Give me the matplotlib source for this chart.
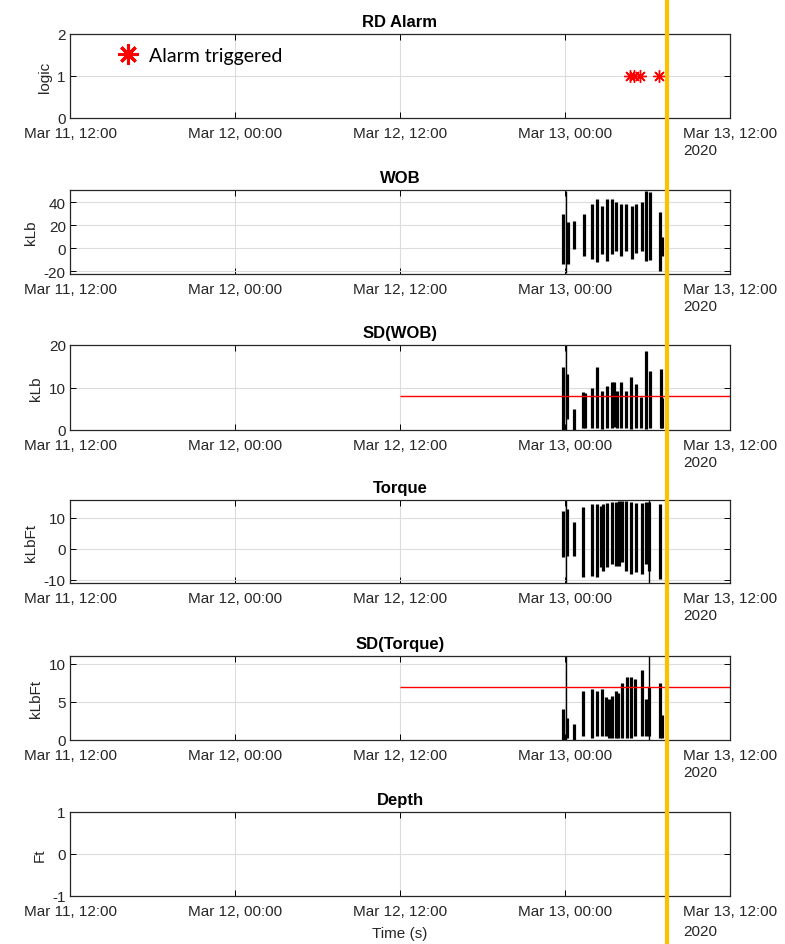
# Drilling alarm dashboard: RD alarm, WOB, torque and their rolling SD
import numpy as np
import pandas as pd
import matplotlib
matplotlib.use("Agg")
import matplotlib.pyplot as plt
import matplotlib.dates as mdates
from matplotlib.lines import Line2D

plt.rcParams["font.family"] = ["Liberation Sans", "DejaVu Sans"]

# --- data (hours after 2020-03-13 00:00) ---
t0 = pd.Timestamp("2020-03-13 00:00")

alarm_h = [4.73, 5.02, 5.49, 6.84]
alarm_v = [1, 1, 1, 1]

wob_h = [-0.13, 0.2, 0.65, 1.35, 1.96, 2.33, 2.72, 3.05, 3.44, 3.74, 4.1, 4.45, 4.85, 5.14, 5.6, 5.92, 6.15, 6.9, 7.08]
wob_hi = [29.6, 22.6, 23.5, 29.6, 38, 42.6, 36.5, 42.6, 42.6, 40, 38, 38, 36.5, 38, 40, 50, 49, 31, 9.6]
wob_lo = [-13.9, -14, -0.9, -7, -9.6, -12, -5, -11, -5, -2.6, -7, -2.6, -9.6, -4, -2.6, -11, -10, -20, -7]
wob_spike_h = [0.05]
wob_spike_lo = [-22]
wob_spike_hi = [50]

sdwob_h = [-0.12, 0.17, 0.65, 1.33, 1.45, 1.99, 2.35, 2.72, 3.08, 3.44, 3.56, 3.81, 4.1, 4.41, 4.82, 5.14, 5.55, 5.89, 6.18, 6.96, 7.08]
sdwob_hi = [14.8, 13.2, 5, 8.9, 8.7, 10, 14.8, 9.2, 10.4, 11.2, 11.2, 9.2, 11.2, 9.2, 12.4, 10.9, 7.8, 18.6, 13.9, 14.4, 7.5]
sdwob_lo = [0, 2.6, 0, 0.5, 0.5, 0.5, 0.5, 0.3, 0.5, 0.5, 0.8, 0.5, 0.5, 0.5, 0.3, 0.5, 0.5, 0.3, 0.5, 0.5, 0.5]
sdwob_spike_h = [0.05]
sdwob_spike_lo = [0]
sdwob_spike_hi = [20]
sdwob_limit = 8

trq_h = [-0.12, 0.17, 0.65, 1.33, 1.94, 2.30, 2.59, 2.79, 3.08, 3.44, 3.68, 3.93, 4.17, 4.41, 4.78, 5.14, 5.58, 5.87, 6.11, 6.91]
trq_hi = [12.3, 12.9, 8.7, 13.5, 14.5, 14.5, 14.0, 14.5, 14.7, 15.0, 15.0, 15.4, 15.6, 15.6, 15.0, 14.7, 14.7, 15.0, 15.0, 14.5]
trq_lo = [-2.6, -2.3, -2.3, -9.1, -8.6, -9.1, -5.9, -7.0, -5.9, -4.8, -5.4, -5.4, -4.3, -7.0, -8.1, -7.5, -8.1, -4.8, -7.0, -9.7]
trq_spike_h = [0.05, 6.11]
trq_spike_lo = [-11, -11]
trq_spike_hi = [15.8, 15.8]

sdtrq_h = [-0.12, 0.12, 0.65, 1.33, 1.94, 2.30, 2.67, 2.96, 3.2, 3.44, 3.68, 3.88, 4.17, 4.49, 4.78, 5.09, 5.58, 5.87, 6.11, 6.91, 7.08]
sdtrq_hi = [4.1, 2.9, 2.1, 6.4, 6.7, 6.4, 6.7, 5.6, 5.4, 5.8, 6.4, 6.1, 7.4, 8.3, 8.3, 8.0, 9.2, 5.4, 6.9, 7.4, 3.3]
sdtrq_lo = [0, 0.3, 0, 0.5, 0.3, 0.5, 0.5, 0.5, 0.3, 0.3, 0.3, 0.3, 0.3, 0.3, 0.3, 0.5, 0.5, 0.5, 0.5, 0.3, 0.3]
sdtrq_spike_h = [0.05, 6.11]
sdtrq_spike_lo = [0, 0]
sdtrq_spike_hi = [11, 11]
sdtrq_limit = 7

limit_start = "2020-03-12 12:00"
cursor_h = 7.42

xtick_times = ["2020-03-11 12:00", "2020-03-12 00:00", "2020-03-12 12:00",
               "2020-03-13 00:00", "2020-03-13 12:00"]
xtick_labels = ["Mar 11, 12:00", "Mar 12, 00:00", "Mar 12, 12:00",
                "Mar 13, 00:00", "Mar 13, 12:00"]
year_label = "2020"


def to_time(hours):
    return t0 + pd.to_timedelta(np.asarray(hours, dtype=float), unit="h")


# --- layout (pixel-measured panel boxes) ---
W, H = 785, 945
fig = plt.figure(figsize=(W / 100, H / 100), dpi=100)
panel_px = [(35, 119), (191, 275), (346, 431), (501, 584), (657, 741), (813, 897)]
axes = []
for top, bot in panel_px:
    ax = fig.add_axes([70 / W, 1 - bot / H, 660 / W, (bot - top) / H])
    axes.append(ax)

titles = ["RD Alarm", "WOB", "SD(WOB)", "Torque", "SD(Torque)", "Depth"]
ylabels = ["logic", "kLb", "kLb", "kLbFt", "kLbFt", "Ft"]
ylims = [(0, 2), (-22.5, 50.5), (0, 20), (-11, 15.8), (0, 11), (-1, 1)]
yticks = [[0, 1, 2], [-20, 0, 20, 40], [0, 10, 20], [-10, 0, 10], [0, 5, 10], [-1, 0, 1]]
txt_col = "#262626"

xt = pd.to_datetime(xtick_times)
for ax, ttl, yl, lim, yt in zip(axes, titles, ylabels, ylims, yticks):
    ax.set_xlim(xt[0], xt[-1])
    ax.set_ylim(*lim)
    ax.set_xticks(xt)
    ax.set_xticklabels(xtick_labels, fontsize=11, color=txt_col)
    ax.set_yticks(yt)
    ax.set_yticklabels([str(v) for v in yt], fontsize=11, color=txt_col)
    ax.set_title(ttl, fontsize=12, fontweight="bold", pad=6)
    ax.set_ylabel(yl, fontsize=11, color=txt_col, labelpad=4)
    ax.grid(True, color="#dcdcdc", lw=0.8)
    ax.set_axisbelow(True)
    ax.tick_params(direction="in", length=4, width=0.7, top=True, right=True)
    ax.tick_params(axis="x", pad=5.5)
    ax.tick_params(axis="y", pad=3)
    for sp in ax.spines.values():
        sp.set_linewidth(0.9)
        sp.set_color(txt_col)

axes[-1].set_xlabel("Time (s)", fontsize=11, color=txt_col, labelpad=6)

# --- RD alarm ---
ax = axes[0]
ax.plot(to_time(alarm_h), alarm_v, ls="none", marker=(8, 2, 0), ms=9,
        mew=1.0, color="red", label="Alarm triggered")
leg = ax.legend(loc="upper left", bbox_to_anchor=(0.052, 1.05), frameon=False,
                markerscale=1.6, handlelength=0.6, handletextpad=0.8,
                prop={"family": ["Lato", "DejaVu Sans"], "size": 14})
leg.legend_handles[0].set_markeredgewidth(2.2)

# --- burst panels ---
burst_sets = [
    (axes[1], wob_h, wob_lo, wob_hi, wob_spike_h, wob_spike_lo, wob_spike_hi),
    (axes[2], sdwob_h, sdwob_lo, sdwob_hi, sdwob_spike_h, sdwob_spike_lo, sdwob_spike_hi),
    (axes[3], trq_h, trq_lo, trq_hi, trq_spike_h, trq_spike_lo, trq_spike_hi),
    (axes[4], sdtrq_h, sdtrq_lo, sdtrq_hi, sdtrq_spike_h, sdtrq_spike_lo, sdtrq_spike_hi),
]
for ax, h, lo, hi, sh, slo, shi in burst_sets:
    ax.vlines(to_time(h), lo, hi, color="black", lw=2.3)
    ax.vlines(to_time(sh), slo, shi, color="black", lw=1.0)

axes[2].hlines(sdwob_limit, pd.Timestamp(limit_start), xt[-1], color="red", lw=1.0)
axes[4].hlines(sdtrq_limit, pd.Timestamp(limit_start), xt[-1], color="red", lw=1.0)

# --- year under the last tick label of every panel (MATLAB style) ---
fig.canvas.draw()
for i, ax in enumerate(axes):
    bb = ax.get_xticklabels()[-1].get_window_extent()
    gap = 6 if i == len(axes) - 1 else 3
    fig.text(bb.x0 / W, (bb.y0 - gap) / H, year_label, fontsize=11, color=txt_col,
             ha="left", va="top")

# --- cursor line across the whole figure ---
cx = mdates.date2num(to_time([cursor_h])[0])
px = axes[-1].transData.transform((cx, 0))[0]
fx = px / fig.bbox.width
fig.add_artist(Line2D([fx, fx], [0, 1], transform=fig.transFigure,
                      color="#FFC000", lw=3))

fig.savefig("out.png", dpi=100)
